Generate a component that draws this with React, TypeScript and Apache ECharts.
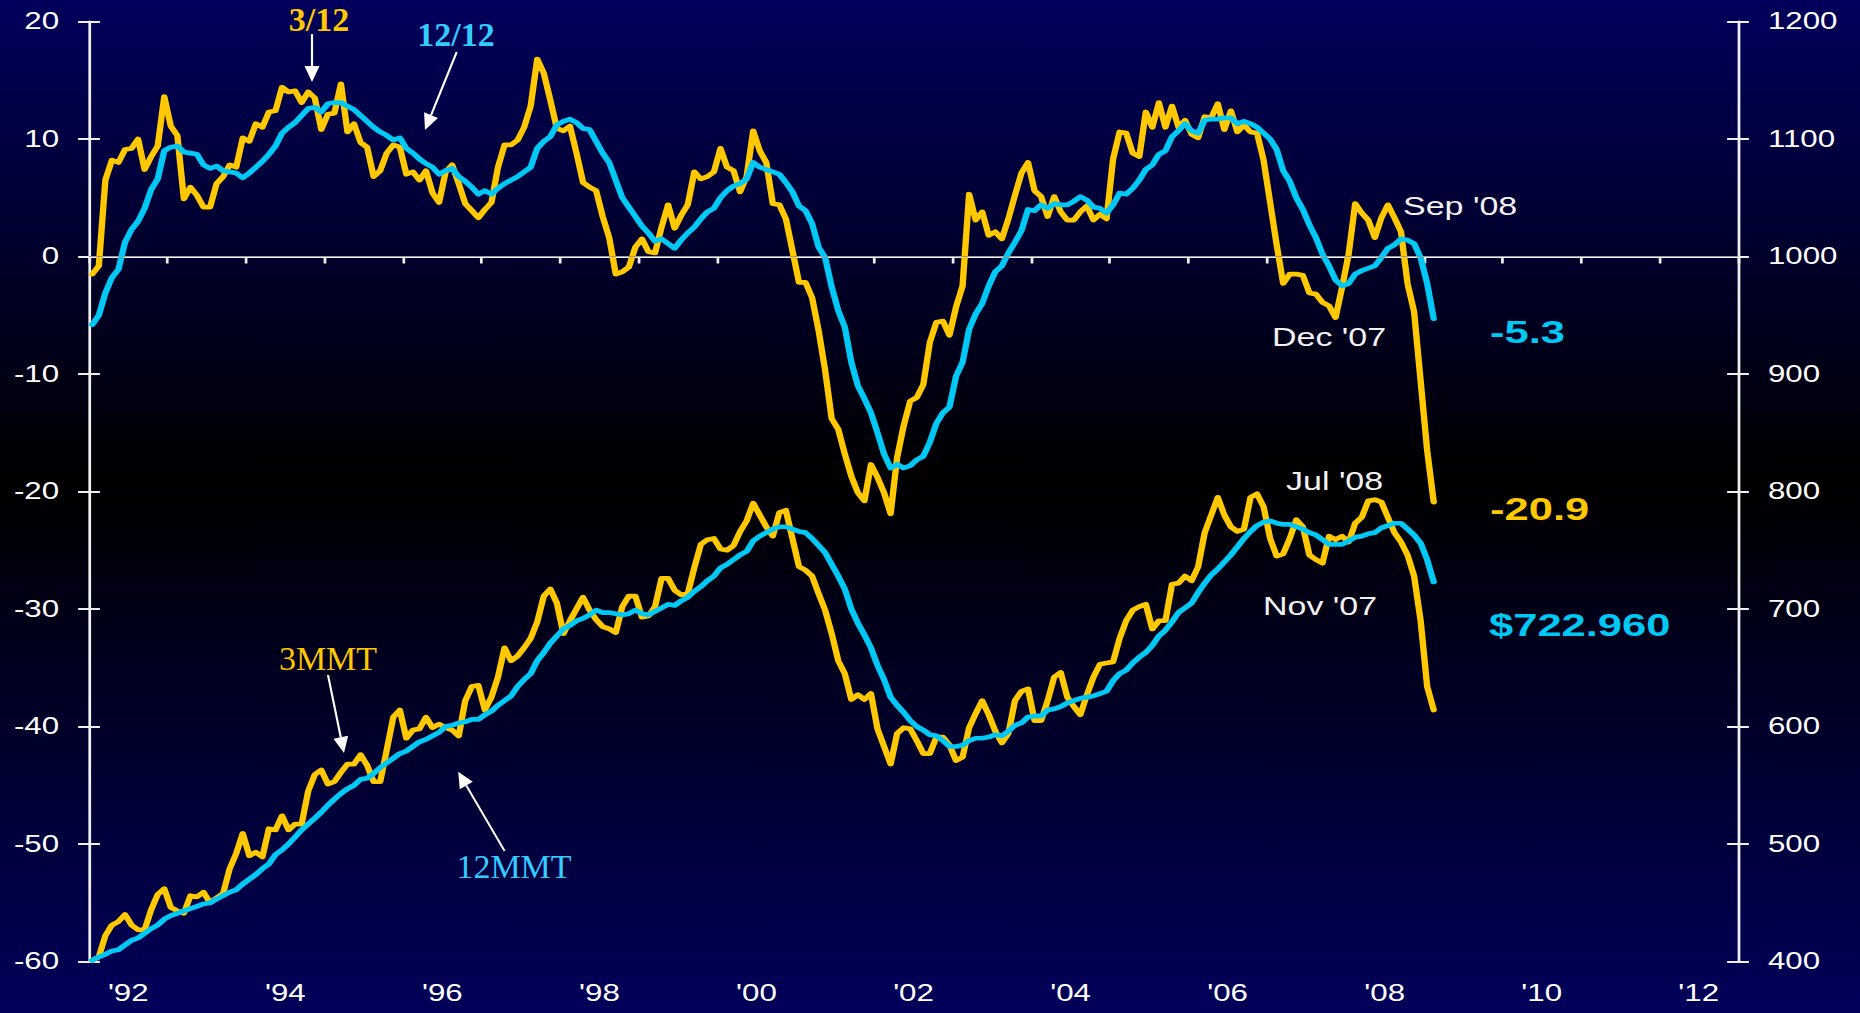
import React, { useEffect, useRef } from "react";
import * as echarts from "echarts";

// ---------- data (monthly, first value = Jan 1992) ----------
const START_YEAR = 1992;
const END_YEAR = 2013;
const YEAR_LABELS = [
  "'92", "'93", "'94", "'95", "'96", "'97", "'98", "'99", "'00", "'01", "'02",
  "'03", "'04", "'05", "'06", "'07", "'08", "'09", "'10", "'11", "'12",
];
const LEFT_MIN = -60, LEFT_MAX = 20, LEFT_STEP = 10;
const RIGHT_MIN = 400, RIGHT_MAX = 1200, RIGHT_STEP = 100;

// 3/12 (yellow, left axis)
const RATIO_3_12 = [
  -1.5, -0.8, 6.5, 8.2, 8.0, 9.1, 9.2, 10.0, 7.4, 8.5,
  9.4, 13.6, 11.1, 10.3, 4.9, 5.9, 5.2, 4.2, 4.2, 6.2,
  6.8, 7.8, 7.6, 10.1, 9.8, 11.3, 11.0, 12.3, 12.4, 14.4,
  14.0, 14.1, 13.1, 14.0, 13.5, 10.8, 12.1, 12.2, 14.7, 10.6,
  11.3, 9.7, 9.3, 6.8, 7.3, 8.8, 9.5, 9.3, 7.0, 7.2,
  6.5, 7.3, 5.4, 4.6, 7.2, 7.8, 6.2, 4.5, 3.9, 3.3,
  4.0, 4.6, 7.6, 9.5, 9.5, 9.9, 11.0, 12.8, 16.8, 15.6,
  13.3, 10.9, 10.7, 11.1, 8.8, 6.3, 5.9, 5.6, 3.4, 1.6,
  -1.5, -1.3, -0.9, 0.8, 1.5, 0.4, 0.3, 2.5, 4.4, 2.4,
  3.5, 4.4, 7.2, 6.6, 6.8, 7.2, 9.2, 7.6, 7.3, 5.5,
  6.8, 10.7, 9.0, 8.0, 4.5, 4.4, 3.2, 0.5, -2.2, -2.2,
  -3.5, -6.3, -9.7, -13.8, -14.7, -16.8, -18.7, -20.1, -20.8, -17.7,
  -18.8, -20.1, -21.9, -17.1, -14.4, -12.3, -12.0, -10.9, -7.3, -5.6,
  -5.5, -6.7, -4.3, -2.5, 5.3, 3.1, 3.8, 1.8, 2.1, 1.5,
  3.2, 5.2, 7.1, 8.0, 5.6, 5.1, 3.4, 5.1, 3.8, 3.1,
  3.1, 3.8, 4.3, 3.1, 3.6, 3.2, 8.3, 10.6, 10.5, 8.8,
  8.5, 12.3, 11.0, 13.1, 11.0, 12.8, 11.0, 11.6, 10.4, 10.1,
  11.9, 11.8, 13.0, 10.8, 12.4, 10.6, 11.2, 10.6, 10.5, 8.2,
  4.6, 1.0, -2.3, -1.5, -1.5, -1.6, -3.1, -3.2, -3.9, -4.2,
  -5.2, -2.6, 0.2, 4.5, 3.7, 3.1, 1.6, 3.3, 4.4, 3.3,
  2.1, -2.3, -4.7, -10.6, -16.5, -20.9,
];

// 12/12 (cyan, left axis)
const RATIO_12_12 = [
  -5.8, -5.0, -3.1, -1.8, -1.1, 1.2, 2.3, 3.0, 4.1, 5.7,
  6.6, 9.0, 9.3, 9.4, 8.9, 8.8, 8.7, 7.8, 7.5, 7.7,
  7.3, 7.2, 7.1, 6.7, 7.1, 7.6, 8.1, 8.7, 9.4, 10.5,
  11.0, 11.4, 12.0, 12.6, 12.7, 12.3, 13.0, 13.1, 13.1, 12.8,
  12.5, 12.0, 11.5, 11.0, 10.6, 10.3, 9.9, 10.1, 9.2, 8.8,
  8.3, 7.9, 7.6, 7.0, 7.3, 7.5, 6.8, 6.4, 5.9, 5.3,
  5.6, 5.3, 5.8, 6.2, 6.5, 6.8, 7.2, 7.6, 9.2, 9.8,
  10.2, 11.2, 11.5, 11.7, 11.4, 10.9, 10.8, 9.8, 8.8, 8.0,
  6.5, 5.0, 4.2, 3.4, 2.6, 2.0, 1.3, 1.5, 1.1, 0.7,
  1.4, 2.0, 2.5, 3.2, 3.8, 4.1, 5.0, 5.6, 6.0, 6.2,
  6.6, 8.0, 7.6, 7.4, 7.2, 7.0, 6.3, 5.5, 4.3, 3.9,
  2.8, 0.8, -0.1, -2.6, -4.6, -6.0, -9.0, -11.0, -12.1, -13.3,
  -15.0, -16.8, -18.0, -17.7, -18.0, -17.8, -17.3, -17.0, -15.8, -14.2,
  -13.3, -12.8, -10.2, -9.0, -6.2, -4.9, -4.0, -2.5, -1.3, -0.8,
  0.3, 1.2, 2.2, 4.0, 3.9, 4.4, 4.1, 4.5, 4.4, 4.4,
  4.7, 5.1, 4.8, 4.2, 4.1, 3.7, 4.4, 5.4, 5.3, 5.8,
  6.5, 7.4, 7.8, 8.7, 9.0, 10.2, 10.7, 11.3, 10.7, 10.5,
  11.6, 11.7, 11.7, 11.8, 11.8, 11.3, 11.5, 11.3, 11.0, 10.5,
  10.0, 9.1, 7.3, 6.4, 5.0, 4.0, 2.7, 1.6, 0.2, -0.8,
  -2.0, -2.5, -2.3, -1.5, -1.2, -1.0, -0.8, -0.1, 0.7, 1.0,
  1.5, 1.4, 1.1, -0.1, -2.3, -5.3,
];

// 3MMT (yellow, right axis)
const MMT_3 = [
  401, 404, 422, 431, 434, 440, 431, 427, 427, 444,
  457, 462, 446, 443, 441, 456, 455, 459, 450, 454,
  458, 479, 492, 509, 490, 493, 489, 513, 512, 524,
  512, 517, 517, 545, 559, 563, 551, 553, 561, 568,
  568, 576, 567, 553, 553, 580, 608, 614, 590, 597,
  598, 608, 599, 602, 599, 597, 592, 622, 634, 635,
  614, 625, 642, 667, 656, 660, 667, 675, 689, 711,
  717, 705, 679, 690, 700, 710, 699, 691, 685, 683,
  680, 702, 711, 711, 693, 694, 702, 726, 726, 716,
  712, 713, 735, 755, 759, 760, 751, 750, 754, 766,
  775, 790, 780, 770, 762, 782, 784, 760, 736, 733,
  728, 713, 699, 679, 656, 645, 623, 627, 623, 628,
  598, 583, 568, 594, 599, 598, 588, 577, 577, 591,
  591, 584, 571, 574, 599, 611, 622, 610, 596, 586,
  594, 622, 630, 632, 605, 605, 622, 642, 646, 625,
  617, 610, 627, 642, 653, 654, 655, 675, 690, 699,
  702, 704, 683, 690, 690, 721, 722, 728, 724, 736,
  765, 780, 795, 780, 770, 766, 768, 795, 798, 787,
  760, 745, 747, 760, 776, 770, 746, 742, 739, 762,
  759, 762, 757, 773, 778, 792, 793, 791, 778, 765,
  757, 746, 728, 690, 634, 614,
];

// 12MMT (cyan, right axis)
const MMT_12 = [
  401, 404, 406, 409, 410, 414, 418, 420, 424, 428,
  431, 436, 439, 441, 443, 445, 447, 449, 450, 453,
  456, 459, 461, 466, 470, 474, 479, 483, 491, 495,
  500, 506, 512, 517, 522, 527, 533, 538, 543, 547,
  550, 555, 556, 560, 565, 569, 573, 577, 579, 583,
  587, 589, 592, 595, 600, 601, 603, 604, 606, 606,
  610, 613, 618, 622, 626, 634, 640, 645, 656, 663,
  671, 677, 683, 686, 690, 692, 695, 699, 697, 697,
  696, 695, 696, 699, 696, 695, 698, 701, 704, 703,
  707, 710, 715, 719, 724, 728, 735, 738, 742, 746,
  749, 758, 762, 765, 768, 770, 770, 768, 766, 765,
  760, 754, 748, 738, 728, 717, 700, 688, 678, 667,
  652, 640, 625, 618, 612, 605, 600, 597, 593, 592,
  588, 583, 583, 584, 588, 590, 590, 591, 593, 592,
  596, 601, 603, 608, 609, 609, 614, 615, 617, 620,
  622, 624, 625, 626, 628, 630, 639, 645, 648, 654,
  659, 663, 669, 677, 682, 689, 697, 701, 705, 714,
  722, 729, 734, 740, 746, 753, 760, 766, 771, 774,
  775, 773, 772, 772, 770, 768, 765, 763, 759, 755,
  755, 755, 758, 761, 762, 764, 765, 769, 771, 773,
  773, 768, 763, 756, 742, 723,
];

const LAST_3_12 = "-20.9";
const LAST_12_12 = "-5.3";
const LAST_12MMT = "$722.960";

// ---------- presentation ----------
const PAGE_W = 1860;
const PAGE_H = 1013;
const CW = 1368; // chart drawn at this width, then stretched horizontally like the slide
const S = PAGE_W / CW;
const sx = (x: number) => x / S;

const YELLOW = "#ffc800";
const CYAN = "#00c8f5";
const CYAN_LABEL = "#33ccff";
const AXIS = "#f0f0f0";
const SANS = '"Liberation Sans", Arial, sans-serif';
const SERIF = '"Liberation Serif", "Times New Roman", serif';
const LINE_W = 4.7;

const toPairs = (vals: number[]) =>
  vals.map((v, i) => [START_YEAR + (i + 0.5) / 12, v]);

function arrow(x1: number, y1: number, x2: number, y2: number) {
  const dx = x2 - x1, dy = y2 - y1;
  const len = Math.hypot(dx, dy);
  const ux = dx / len, uy = dy / len;
  const hl = 16, hw = 7.5;
  const bx = x2 - ux * hl, by = y2 - uy * hl;
  const px = -uy, py = ux;
  return [
    { type: "line", silent: true, shape: { x1: sx(x1), y1, x2: sx(bx), y2: by }, style: { stroke: "#ffffff", lineWidth: 1.6 } },
    {
      type: "polygon", silent: true,
      shape: { points: [[sx(x2), y2], [sx(bx + px * hw), by + py * hw], [sx(bx - px * hw), by - py * hw]] },
      style: { fill: "#ffffff" },
    },
  ];
}

function plainText(text: string, xLeft: number, yMid: number, fill: string, size: number, weight: string) {
  return {
    type: "text", silent: true, x: sx(xLeft), y: yMid,
    style: {
      text, fill, fontFamily: SANS, fontSize: size, fontWeight: weight,
      textAlign: "left", textVerticalAlign: "middle", align: "left", verticalAlign: "middle",
    },
  };
}

function serifText(text: string, cx: number, cy: number, fill: string, weight: string) {
  return {
    type: "text", silent: true, x: sx(cx), y: cy, scaleX: 1 / S,
    style: {
      text, fill, fontFamily: SERIF, fontSize: 34, fontWeight: weight,
      textAlign: "center", textVerticalAlign: "middle", align: "center", verticalAlign: "middle",
    },
  };
}

const axisLabelStyle = { color: "#ffffff", fontFamily: SANS, fontSize: 23 };

function yAxes(position: "left" | "right", min: number, max: number, step: number) {
  return [
    {
      type: "value", position, min, max, interval: step,
      axisLine: { show: true, lineStyle: { color: AXIS, width: 2 } },
      axisTick: { show: true, inside: false, length: 8, lineStyle: { color: AXIS, width: 2 } },
      axisLabel: { show: true, margin: 22, formatter: (v: number) => String(v), ...axisLabelStyle },
      splitLine: { show: false },
    },
    {
      type: "value", position, min, max, interval: step,
      axisLine: { show: false },
      axisTick: { show: true, inside: true, length: 8, lineStyle: { color: AXIS, width: 2 } },
      axisLabel: { show: false },
      splitLine: { show: false },
    },
  ];
}

function lineSeries(name: string, yAxisIndex: number, vals: number[], color: string, z: number) {
  return {
    type: "line", name, xAxisIndex: 1, yAxisIndex, data: toPairs(vals),
    symbol: "none", showSymbol: false, z,
    lineStyle: { color, width: LINE_W, join: "round", cap: "round" }, itemStyle: { color },
  };
}

function buildOption() {
  return {
    animation: false,
    backgroundColor: "transparent",
    grid: { left: sx(89), right: CW - sx(1738), top: 21.5, bottom: PAGE_H - 961.5, containLabel: false },
    xAxis: [
      {
        type: "category", data: YEAR_LABELS, boundaryGap: true, position: "bottom",
        axisLine: { show: true, lineStyle: { color: AXIS, width: 2 } },
        axisTick: { show: true, interval: 0, length: 7, inside: false, lineStyle: { color: AXIS, width: 2 } },
        axisLabel: { interval: 1, margin: 20, ...axisLabelStyle },
        splitLine: { show: false },
      },
      { type: "value", min: START_YEAR, max: END_YEAR, show: false, splitLine: { show: false } },
    ],
    yAxis: [
      ...yAxes("left", LEFT_MIN, LEFT_MAX, LEFT_STEP),
      ...yAxes("right", RIGHT_MIN, RIGHT_MAX, RIGHT_STEP),
    ],
    series: [
      {
        type: "line", name: "zero", xAxisIndex: 1, yAxisIndex: 0, data: [], silent: true, z: 1,
        markLine: {
          silent: true, symbol: ["none", "none"], label: { show: false },
          lineStyle: { color: "#9a9a9a", width: 1, type: "solid" },
          data: [{ yAxis: 0 }],
        },
      },
      lineSeries("3/12", 0, RATIO_3_12, YELLOW, 2),
      lineSeries("12/12", 0, RATIO_12_12, CYAN, 3),
      lineSeries("3MMT", 2, MMT_3, YELLOW, 2),
      lineSeries("12MMT", 2, MMT_12, CYAN, 3),
    ],
    graphic: [
      serifText("3/12", 319, 19, YELLOW, "bold"),
      ...arrow(312, 34, 312, 82),
      serifText("12/12", 456, 34, CYAN_LABEL, "bold"),
      ...arrow(456.7, 52, 425, 130),
      serifText("3MMT", 328, 658, YELLOW, "normal"),
      ...arrow(328, 675, 344, 753),
      serifText("12MMT", 514, 866, CYAN_LABEL, "normal"),
      ...arrow(504.6, 851, 458.2, 771.7),
      plainText("Sep '08", 1403, 206, "#f2f2f2", 25, "normal"),
      plainText("Dec '07", 1272, 337, "#f2f2f2", 25, "normal"),
      plainText("Jul '08", 1286, 481, "#f2f2f2", 25, "normal"),
      plainText("Nov '07", 1263, 606, "#f2f2f2", 25, "normal"),
      plainText(LAST_12_12, 1490, 332, CYAN, 32, "bold"),
      plainText(LAST_3_12, 1490, 509, YELLOW, 32, "bold"),
      plainText(LAST_12MMT, 1489, 625, CYAN, 32, "bold"),
    ],
  };
}

export default function App() {
  const ref = useRef<HTMLDivElement | null>(null);

  useEffect(() => {
    document.body.style.margin = "0";
    document.body.style.overflow = "hidden";
    if (!ref.current) return;
    const chart = echarts.init(ref.current, null, { renderer: "svg", width: CW, height: PAGE_H });
    chart.setOption(buildOption() as any);
    return () => {
      chart.dispose();
    };
  }, []);

  return (
    <div
      style={{
        position: "fixed",
        left: 0,
        top: 0,
        width: PAGE_W,
        height: PAGE_H,
        overflow: "hidden",
        background: "linear-gradient(to bottom, #00005c 0%, #000000 47.5%, #00005a 100%)",
      }}
    >
      <div
        ref={ref}
        style={{
          width: CW,
          height: PAGE_H,
          transform: `scaleX(${S})`,
          transformOrigin: "0 0",
        }}
      />
    </div>
  );
}
